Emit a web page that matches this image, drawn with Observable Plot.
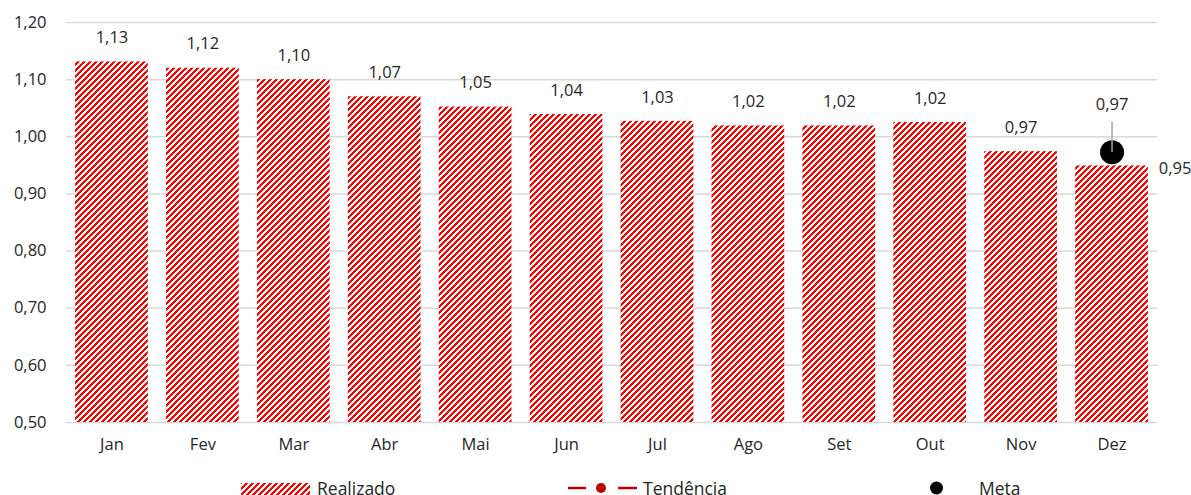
<!DOCTYPE html>
<html>
<head>
<meta charset="utf-8">
<script src="https://cdn.jsdelivr.net/npm/d3@7"></script>
<script src="https://cdn.jsdelivr.net/npm/@observablehq/plot@0.6"></script>
<style>
  html, body { margin: 0; padding: 0; background: #fff; }
  #wrap { position: relative; width: 1191px; height: 495px; font-family: "Open Sans", sans-serif; color: #262626; overflow: hidden; }
  #legend { position: absolute; left: 0; top: 476px; width: 1191px; height: 24px; }
  #legend .item { position: absolute; top: 0; display: flex; align-items: center; font-size: 17.5px; height: 24px; }
  #legend svg { flex: none; }
</style>
</head>
<body>
<div id="wrap">
  <div id="chart"></div>
  <div id="legend">
    <div class="item" style="left:241px">
      <svg width="76" height="14"><rect x="0" y="2" width="69" height="12" fill="url(#stripes)"></rect></svg>Realizado
    </div>
    <div class="item" style="left:568px">
      <svg width="75" height="14">
        <line x1="0" x2="18" y1="7" y2="7" stroke="#c00000" stroke-width="2.5"></line>
        <circle cx="33" cy="7" r="5" fill="#c00000"></circle>
        <line x1="50" x2="69" y1="7" y2="7" stroke="#c00000" stroke-width="2.5"></line>
      </svg>Tendência
    </div>
    <div class="item" style="left:930px">
      <svg width="49" height="14"><circle cx="6.5" cy="7" r="6.5" fill="#000"></circle></svg>Meta
    </div>
  </div>
</div>
<script>
const months = ["Jan","Fev","Mar","Abr","Mai","Jun","Jul","Ago","Set","Out","Nov","Dez"];
const realizado = [1.131, 1.120, 1.100, 1.070, 1.052, 1.039, 1.027, 1.019, 1.019, 1.025, 0.974, 0.949];
const metaMonth = ["Dez"];
const metaValue = [0.973];
const yTicks = [0.5, 0.6, 0.7, 0.8, 0.9, 1.0, 1.1, 1.2];

const fmt = v => d3.format(".2f")(v).replace(".", ",");
const bars = months.map((m, i) => ({month: m, value: realizado[i]}));
const meta = metaMonth.map((m, i) => ({month: m, value: metaValue[i]}));
const lastMonth = months[months.length - 1];

const chart = Plot.plot({
  width: 1191,
  height: 472,
  marginLeft: 66,
  marginRight: 34,
  marginTop: 22,
  marginBottom: 50,
  style: {fontFamily: "Open Sans, sans-serif", fontSize: "16.5px", color: "#262626", overflow: "visible"},
  x: {domain: months, paddingInner: 0.2, paddingOuter: 0.1, round: false, label: null, tickSize: 0, tickPadding: 16},
  y: {domain: [0.5, 1.2], ticks: yTicks, tickFormat: fmt, label: null, tickSize: 0, tickPadding: 20},
  marks: [
    Plot.ruleY(yTicks, {stroke: "#d9d9d9", strokeWidth: 1.5}),
    Plot.barY(bars, {x: "month", y1: 0.5, y2: "value", fill: "url(#stripes)"}),
    Plot.text(bars.filter(d => d.month !== lastMonth), {x: "month", y: "value", text: d => fmt(d.value), dy: -24, fill: "#262626", fontSize: 16.5}),
    Plot.text(bars.filter(d => d.month === lastMonth), {x: "month", y: "value", text: d => fmt(d.value), dx: 63, dy: 3, fill: "#262626", fontSize: 16.5}),
    Plot.dot(meta, {x: "month", y: "value", r: 12, fill: "#000"}),
    Plot.ruleX(meta, {x: "month", y1: "value", y2: "value", insetTop: -30, insetBottom: 0, stroke: "#a6a6a6", strokeWidth: 1.5}),
    Plot.text(meta, {x: "month", y: "value", text: d => fmt(d.value), dy: -47, fill: "#262626", fontSize: 16.5})
  ]
});

// pixel-stepped diagonal stripe pattern ("/" direction)
const N = 6, K = 3;
const defs = d3.create("svg:defs");
const pat = defs.append("pattern")
  .attr("id", "stripes")
  .attr("patternUnits", "userSpaceOnUse")
  .attr("width", N).attr("height", N)
  .attr("shape-rendering", "crispEdges");
pat.append("rect").attr("width", N).attr("height", N).attr("fill", "#ffffff");
for (let y = 0; y < N; y++) {
  for (let x = 0; x < N; x++) {
    if ((x + y) % N < K) {
      pat.append("rect").attr("x", x).attr("y", y).attr("width", 1).attr("height", 1)
        .attr("fill", "#ff0000").attr("shape-rendering", "crispEdges");
    }
  }
}
chart.insertBefore(defs.node(), chart.firstChild);

document.getElementById("chart").appendChild(chart);
</script>
</body>
</html>
